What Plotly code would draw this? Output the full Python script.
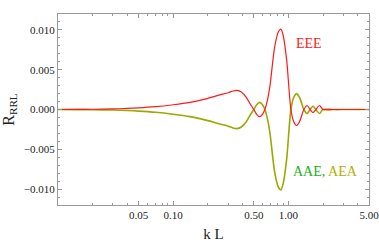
import plotly.graph_objects as go

kL = [0.010, 0.015, 0.02, 0.03, 0.04, 0.05, 0.07, 0.10, 0.14, 0.17, 0.20, 0.25, 0.30, 0.33,
      0.356, 0.39, 0.432, 0.47, 0.50, 0.53, 0.563, 0.595, 0.624, 0.66, 0.69, 0.76, 0.82,
      0.86, 0.90, 0.965, 1.05, 1.11, 1.175, 1.25, 1.36, 1.45, 1.54, 1.63, 1.73, 1.86,
      1.99, 2.2, 2.5, 3.0, 5.0]
eee = [0.0, 0.00001, 0.00003, 0.00007, 0.00013, 0.0002, 0.00035, 0.0006, 0.0009, 0.00115,
       0.0014, 0.0018, 0.0021, 0.00232, 0.0024, 0.0022, 0.0015, 0.0006, 0.0, -0.0006,
       -0.0009, -0.0006, 0.0, 0.0013, 0.0029, 0.0079, 0.0098, 0.0101, 0.0093, 0.0062,
       0.0, -0.0015, -0.0020, -0.0015, 0.0, 0.0005, 0.0, -0.0004, 0.0, 0.0005, 0.0,
       0.00005, 0.0, 0.0, 0.0]
aae = [0.0, -0.00001, -0.00003, -0.00007, -0.00013, -0.0002, -0.00035, -0.0006, -0.0009,
       -0.00115, -0.0014, -0.0018, -0.0021, -0.00232, -0.0024, -0.0022, -0.0015, -0.0006,
       0.0, 0.0006, 0.0009, 0.0006, 0.0, -0.0013, -0.0029, -0.0079, -0.0098, -0.0101,
       -0.0093, -0.0062, 0.0, 0.0015, 0.0020, 0.0015, 0.0, -0.0005, 0.0, 0.0004, 0.0,
       -0.0005, 0.0, -0.00005, 0.0, 0.0, 0.0]

x_major = [0.05, 0.1, 0.5, 1.0, 5.0]
x_major_text = ["0.05", "0.10", "0.50", "1.00", "5.00"]
x_minor = [0.01, 0.02, 0.03, 0.04, 0.06, 0.07, 0.08, 0.09, 0.2, 0.3, 0.4, 0.6, 0.7, 0.8,
           0.9, 2, 3, 4]
y_major = [-0.010, -0.005, 0.0, 0.005, 0.010]
y_major_text = ["\u22120.010", "\u22120.005", "0.000", "0.005", "0.010"]

RED = "#ff1a1a"
OLIVE = "#9aaa00"
AAE_COL = "#22b022"
AEA_COL = "#b0b000"
SERIF = "Liberation Serif"

fig = go.Figure()
fig.add_trace(go.Scatter(x=kL, y=aae, mode="lines", line=dict(color=OLIVE, width=1.6, shape="spline", smoothing=0.8), showlegend=False))
fig.add_trace(go.Scatter(x=kL, y=eee, mode="lines", line=dict(color=RED, width=1.2, shape="spline", smoothing=0.8), showlegend=False))

axis_common = dict(showline=True, linecolor="#999999", linewidth=1, mirror="allticks",
                   ticks="inside", tickcolor="#999999", showgrid=False, zeroline=False,
                   automargin=False,
                   tickfont=dict(family=SERIF, size=11, color="#222222"))

fig.update_xaxes(type="log", range=[-2, 0.69897], tickmode="array", tickvals=x_major,
                 ticktext=x_major_text, ticklen=4, ticklabeloverflow="allow",
                 minor=dict(tickmode="array", tickvals=x_minor, ticklen=2, ticks="inside", tickcolor="#999999"),
                 title=dict(text="k L", font=dict(family=SERIF, size=15, color="#222222"), standoff=8),
                 **axis_common)
fig.update_yaxes(range=[-0.012, 0.012], tickmode="array", tickvals=y_major,
                 ticktext=y_major_text, ticklen=4,
                 minor=dict(dtick=0.001, ticklen=2, ticks="inside", tickcolor="#999999"),
                 title=dict(text="R<sub>RRL</sub>", font=dict(family=SERIF, size=16, color="#222222"), standoff=6),
                 **axis_common)

fig.add_annotation(x=0.807, y=0.843, xref="paper", yref="paper", text="EEE", showarrow=False,
                   xanchor="center", yanchor="middle",
                   font=dict(family=SERIF, size=14, color=RED))
fig.add_annotation(x=0.859, y=0.173, xref="paper", yref="paper",
                   xanchor="center", yanchor="middle",
                   text="<span style='color:%s'>AAE,</span> <span style='color:%s'>AEA</span>" % (AAE_COL, AEA_COL),
                   showarrow=False, font=dict(family=SERIF, size=14, color=AAE_COL))

fig.update_layout(width=379, height=246, margin=dict(l=58, r=10, t=14, b=41),
                  paper_bgcolor="white", plot_bgcolor="white")
fig.write_html("out.html", config={"displayModeBar": False},
               post_script="document.body.style.margin='0';document.body.style.padding='0';")
